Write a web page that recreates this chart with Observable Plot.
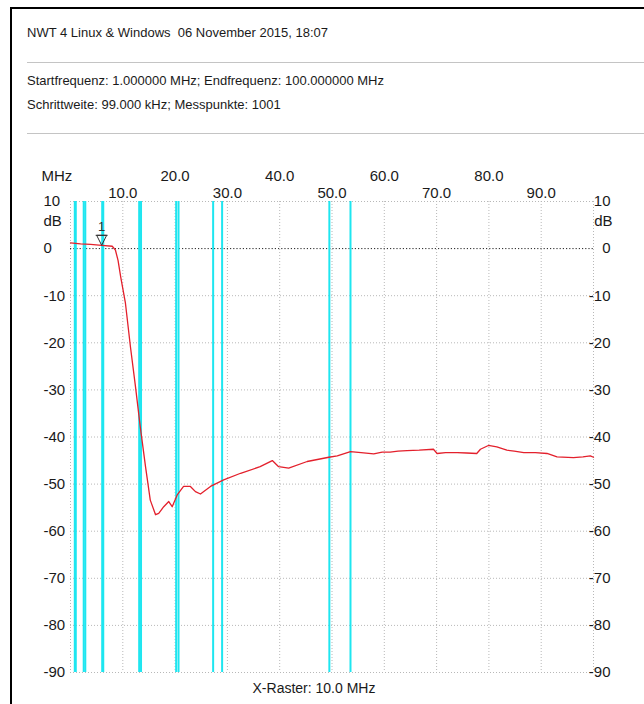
<!DOCTYPE html>
<html><head><meta charset="utf-8">
<script src="https://cdn.jsdelivr.net/npm/d3@7"></script>
<script src="https://cdn.jsdelivr.net/npm/@observablehq/plot@0.6"></script>
<style>
body{margin:0;background:#fff;}
#wrap{position:relative;width:644px;height:704px;overflow:hidden;font-family:"Liberation Sans",Arial,sans-serif;color:#1a1a1a;}
#chart{position:absolute;left:0;top:0;}
.fT{position:absolute;left:10px;top:7px;width:640px;height:2px;background:#000;}
.fL{position:absolute;left:10px;top:7px;width:2px;height:700px;background:#000;}
.hdr{position:absolute;left:27px;font-size:13px;line-height:16px;white-space:pre;}
.sep{position:absolute;left:27px;width:620px;height:1px;background:#c4c4c4;}
</style></head><body>
<div id="wrap">
<div id="chart"></div>
<div class="fT"></div><div class="fL"></div>
<div class="hdr" style="top:25px">NWT 4 Linux &amp; Windows  06 November 2015, 18:07</div>
<div class="sep" style="top:62px"></div>
<div class="hdr" style="top:73px">Startfrequenz: 1.000000 MHz; Endfrequenz: 100.000000 MHz</div>
<div class="hdr" style="top:97px">Schrittweite: 99.000 kHz; Messpunkte: 1001</div>
<div class="sep" style="top:133px"></div>
</div>
<script>
// measured curve (frequency MHz, level dB)
const freq = [1.0, 2.9, 4.8, 6.9, 8.9, 9.5, 10.0, 10.5, 11.4, 12.35, 13.3, 14.2, 15.2, 16.1, 17.1, 17.7, 18.65, 19.6, 20.25, 21.2, 22.4, 23.7, 24.65, 25.6, 27.5, 30.0, 33.2, 36.9, 39.2, 40.4, 42.3, 45.8, 49.9, 51.5, 54.0, 56.0, 58.4, 60.0, 61.5, 63.0, 64.7, 67.0, 69.7, 70.4, 72.0, 74.2, 76.0, 77.9, 78.6, 80.1, 81.7, 83.6, 85.0, 86.8, 89.0, 91.2, 93.1, 96.2, 98.0, 99.4, 100.0];
const level = [1.2, 1.0, 0.9, 0.7, 0.5, -0.3, -2.5, -6.0, -11.6, -20.9, -29.3, -37.8, -46.3, -53.4, -56.5, -56.2, -54.8, -53.7, -54.8, -52.3, -50.5, -50.5, -51.6, -52.1, -50.5, -49.1, -47.7, -46.3, -45.0, -46.3, -46.6, -45.2, -44.3, -44.0, -43.1, -43.3, -43.6, -43.2, -43.2, -43.0, -42.9, -42.8, -42.6, -43.5, -43.3, -43.3, -43.4, -43.5, -42.6, -41.8, -42.1, -42.8, -43.0, -43.3, -43.3, -43.5, -44.2, -44.4, -44.2, -44.0, -44.3];
// amateur band edges (cyan lines), MHz
const bandEdges = [1.81, 2.0, 3.5, 3.8, 7.0, 7.2, 14.0, 14.35, 21.0, 21.45, 28.0, 29.7, 50.0, 54.0];
// grid divisions and labels
const gridFreq = [1, 10.9, 20.8, 30.7, 40.6, 50.5, 60.4, 70.3, 80.2, 90.1, 100];
const gridLabels = ["", "10.0", "20.0", "30.0", "40.0", "50.0", "60.0", "70.0", "80.0", "90.0", ""];
const dbTicks = [10, 0, -10, -20, -30, -40, -50, -60, -70, -80, -90];
const markerFreq = [6.9];
const markerLevel = [0.7];
const markerLabel = ["1"];

const curve = freq.map((f, i) => ({f, db: level[i]}));
const xt = gridFreq.map((f, i) => ({f, label: gridLabels[i], row: i % 2}));
const marker = markerFreq.map((f, i) => ({f, db: markerLevel[i], label: markerLabel[i]}));
const triDown = {draw(ctx) { ctx.moveTo(0, 0); ctx.lineTo(-5, -10); ctx.lineTo(5, -10); ctx.closePath(); ctx.moveTo(-6, -10); ctx.lineTo(6, -10); }};

const fontFam = '"Liberation Sans", Arial, sans-serif';
const chart = Plot.plot({
  width: 644, height: 704,
  marginLeft: 70, marginRight: 51, marginTop: 201, marginBottom: 32,
  x: {domain: [1, 100], axis: null},
  y: {domain: [-90, 10], axis: null},
  style: {background: "transparent", fontFamily: fontFam, fontSize: "15px", color: "#1a1a1a"},
  marks: [
    Plot.ruleX(gridFreq, {stroke: "#b8b8b8", strokeDasharray: "1,2"}),
    Plot.ruleY(dbTicks.filter(d => d !== 0), {stroke: "#b8b8b8", strokeDasharray: "1,2"}),
    Plot.ruleY([0], {stroke: "#222", strokeDasharray: "1.2,2"}),
    Plot.ruleX(bandEdges, {stroke: "#1ee6f0", strokeWidth: 2}),
    Plot.line(curve, {x: "f", y: "db", stroke: "#e3202c", strokeWidth: 1.3}),
    Plot.dot(marker, {x: "f", y: "db", symbol: triDown, stroke: "#333", fill: "none", strokeWidth: 1, r: 5}),
    Plot.text(marker, {x: "f", y: "db", text: "label", dy: -18, fontSize: 13, fill: "#333"}),
    Plot.text(xt.filter(d => d.row === 1), {x: "f", text: "label", frameAnchor: "top", dy: -14, fill: "#1a1a1a"}),
    Plot.text(xt.filter(d => d.row === 0), {x: "f", text: "label", frameAnchor: "top", dy: -31, fill: "#1a1a1a"}),
    Plot.text(["MHz"], {frameAnchor: "top-left", dx: -29, dy: -31, fill: "#1a1a1a"}),
    Plot.text(dbTicks, {y: d => d, text: d => String(d), frameAnchor: "left", dx: -27, fill: "#1a1a1a"}),
    Plot.text(dbTicks, {y: d => d, text: d => String(d), frameAnchor: "right", dx: 17, fill: "#1a1a1a"}),
    Plot.text(["dB"], {y: [10], text: d => d, frameAnchor: "left", dx: -27, dy: 20, fill: "#1a1a1a"}),
    Plot.text(["dB"], {y: [10], text: d => d, frameAnchor: "right", dx: 19, dy: 20, fill: "#1a1a1a"}),
    Plot.text(["X-Raster: 10.0 MHz"], {frameAnchor: "bottom", dx: -18, dy: 20, fontSize: 14, fill: "#1a1a1a"})
  ]
});
document.getElementById("chart").appendChild(chart);
</script>
</body></html>
